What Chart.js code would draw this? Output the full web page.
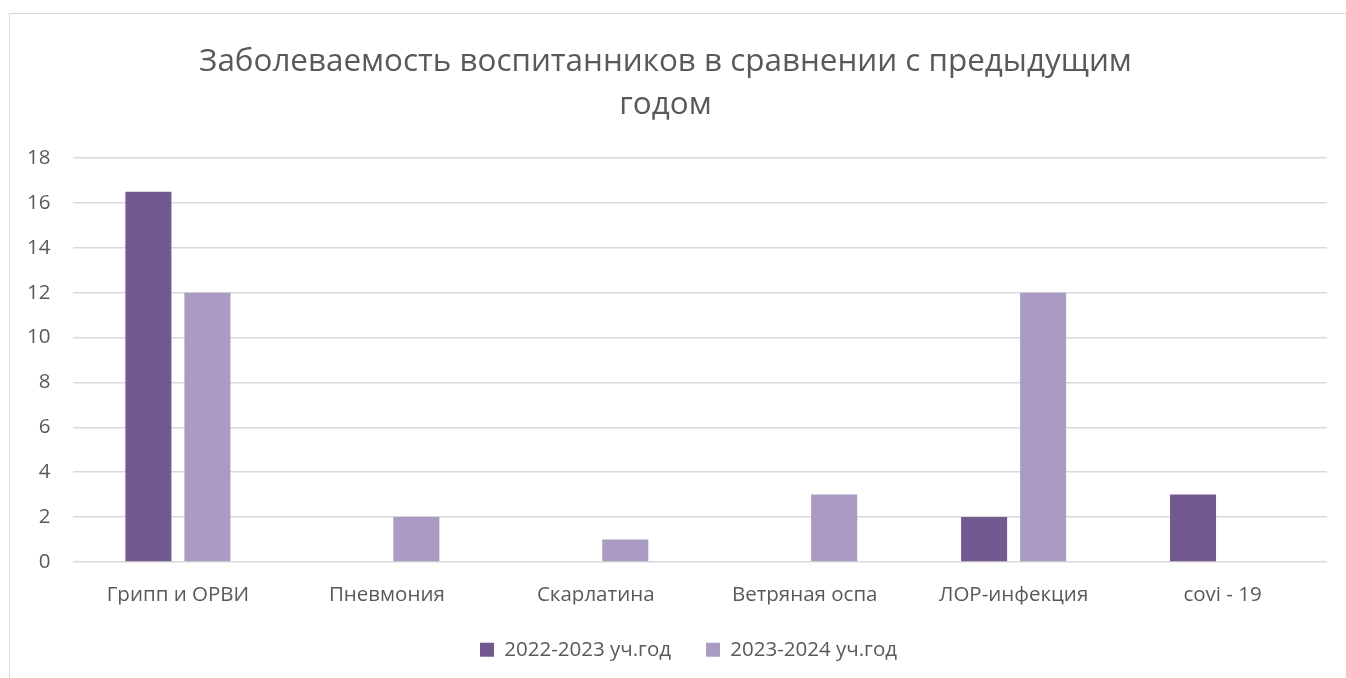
<!DOCTYPE html>
<html>
<head>
<meta charset="utf-8">
<script src="https://cdn.jsdelivr.net/npm/chart.js@4"></script>
<style>
  html, body { margin: 0; padding: 0; background: #fff; }
  #wrap { width: 1346px; height: 678px; position: relative; }
</style>
</head>
<body>
<div id="wrap"><canvas id="chart"></canvas></div>
<script>
// Categories and series
const categories = ['Грипп и ОРВИ', 'Пневмония', 'Скарлатина', 'Ветряная оспа', 'ЛОР-инфекция', 'covi - 19'];
const series2022 = [16.5, 0, 0, 0, 2, 3];
const series2023 = [12, 2, 1, 3, 12, 0];
const seriesNames = ['2022-2023 уч.год', '2023-2024 уч.год'];
const titleLines = ['Заболеваемость воспитанников в сравнении с предыдущим', 'годом'];

const textColor = '#595959';
const gridColor = '#d9d9d9';
const fontFamily = '"Open Sans", "Liberation Sans", sans-serif';

// Outer frame like the spreadsheet chart area
const framePlugin = {
    id: 'frame',
    beforeDraw(chart) {
        const ctx = chart.ctx;
        ctx.save();
        ctx.strokeStyle = '#d9d9d9';
        ctx.lineWidth = 1;
        ctx.beginPath();
        ctx.moveTo(9.5, chart.height);
        ctx.lineTo(9.5, 13.5);
        ctx.lineTo(chart.width, 13.5);
        ctx.stroke();
        ctx.restore();
    },
    // centre the legend under the plot area rather than the whole canvas
    afterLayout(chart) {
        const legend = chart.legend;
        if (legend) {
            legend.left += 23;
            legend.right += 23;
        }
    }
};

const ctx = document.getElementById('chart').getContext('2d');
new Chart(ctx, {
    type: 'bar',
    data: {
        labels: categories,
        datasets: [{
            label: seriesNames[0],
            data: series2022,
            backgroundColor: '#725990'
        }, {
            label: seriesNames[1],
            data: series2023,
            backgroundColor: '#a99bc1'
        }]
    },
    options: {
        responsive: true,
        maintainAspectRatio: false,
        animation: false,
        categoryPercentage: 0.565,
        barPercentage: 0.78,
        layout: {
            padding: { left: 4, right: 19, top: 30, bottom: 8 }
        },
        scales: {
            x: {
                grid: { display: false },
                border: { display: false },
                ticks: {
                    color: textColor,
                    font: { family: fontFamily, size: 20.5 },
                    padding: 13
                },
                afterFit: function(scale) {
                    scale.height -= 16;
                }
            },
            y: {
                min: 0,
                max: 18,
                ticks: {
                    stepSize: 2,
                    color: textColor,
                    font: { family: fontFamily, size: 20.5 },
                    padding: 23
                },
                grid: { color: gridColor, lineWidth: 1.5, drawTicks: false },
                border: { display: false }
            }
        },
        plugins: {
            title: {
                display: true,
                text: titleLines,
                color: textColor,
                font: { family: fontFamily, size: 31.4, weight: 'normal', lineHeight: 1.37 },
                padding: { top: 11, bottom: 31 }
            },
            legend: {
                position: 'bottom',
                labels: {
                    color: textColor,
                    font: { family: fontFamily, size: 20.5 },
                    boxWidth: 14,
                    boxHeight: 14,
                    padding: 35
                }
            },
            tooltip: { enabled: false }
        }
    },
    plugins: [framePlugin]
});
</script>
</body>
</html>
